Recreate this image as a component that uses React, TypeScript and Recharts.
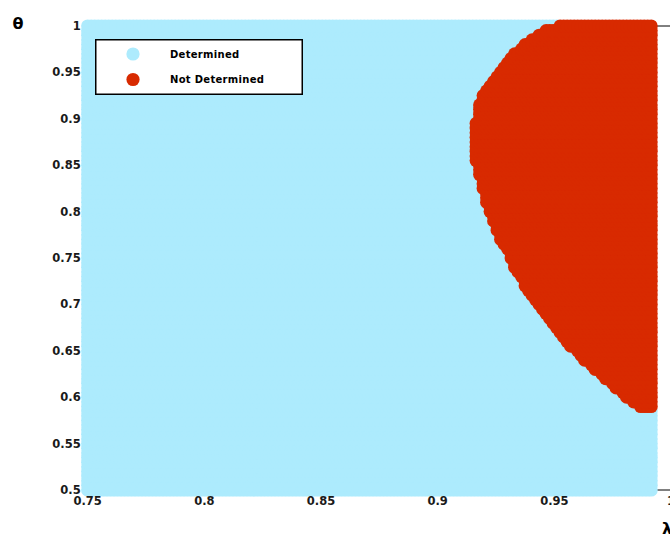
import React from 'react';
import { ScatterChart, Scatter, XAxis, YAxis, Legend } from 'recharts';

// Sampling grid of the scan (lambda on x, theta on y)
const lambdaStart = 0.75;
const lambdaEnd = 0.9915;
const lambdaStep = 0.0015;
const thetaStart = 0.5;
const thetaEnd = 1.0;
const thetaStep = 0.005;

// Rows where the "Not Determined" region exists and the smallest lambda that is Not Determined
const notDeterminedTheta = [
  1.0, 0.995, 0.99, 0.985, 0.98, 0.975, 0.97, 0.965, 0.96, 0.955,
  0.95, 0.945, 0.94, 0.935, 0.93, 0.925, 0.92, 0.915, 0.91, 0.905,
  0.9, 0.895, 0.89, 0.885, 0.88, 0.875, 0.87, 0.865, 0.86, 0.855,
  0.85, 0.845, 0.84, 0.835, 0.83, 0.825, 0.82, 0.815, 0.81, 0.805,
  0.8, 0.795, 0.79, 0.785, 0.78, 0.775, 0.77, 0.765, 0.76, 0.755,
  0.75, 0.745, 0.74, 0.735, 0.73, 0.725, 0.72, 0.715, 0.71, 0.705,
  0.7, 0.695, 0.69, 0.685, 0.68, 0.675, 0.67, 0.665, 0.66, 0.655,
  0.65, 0.645, 0.64, 0.635, 0.63, 0.625, 0.62, 0.615, 0.61, 0.605,
  0.6, 0.595, 0.59,
];
const notDeterminedLambdaMin = [
  0.9525, 0.9467, 0.9429, 0.9403, 0.9381, 0.9356, 0.9334, 0.9313, 0.93, 0.9283,
  0.927, 0.9252, 0.924, 0.9222, 0.921, 0.9197, 0.9188, 0.9184, 0.9182, 0.9177,
  0.9175, 0.9171, 0.9169, 0.9167, 0.9167, 0.9167, 0.9167, 0.9169, 0.9171, 0.9171,
  0.9175, 0.9179, 0.9184, 0.9188, 0.9192, 0.9197, 0.9203, 0.921, 0.9214, 0.9222,
  0.9231, 0.9237, 0.9244, 0.9252, 0.9259, 0.9265, 0.9276, 0.9287, 0.9298, 0.9308,
  0.9317, 0.9326, 0.9334, 0.9347, 0.936, 0.9371, 0.9381, 0.9394, 0.9407, 0.9422,
  0.9437, 0.945, 0.9463, 0.9476, 0.9493, 0.951, 0.9523, 0.9536, 0.9558, 0.9575,
  0.9596, 0.9614, 0.9635, 0.9657, 0.9678, 0.9704, 0.9725, 0.9747, 0.9768, 0.9794,
  0.9815, 0.9841, 0.9871,
];

const xTicks = [0.75, 0.8, 0.85, 0.9, 0.95, 1];
const yTicks = [0.5, 0.55, 0.6, 0.65, 0.7, 0.75, 0.8, 0.85, 0.9, 0.95, 1];
const seriesNames = ['Determined', 'Not Determined'];

const BLUE = '#ADEBFD';
const RED = '#D82A00';
const COLORS = [BLUE, RED];
const R = 6.6;

type Pt = { lambda: number; theta: number };

function buildPoints() {
  const det: Pt[] = [];
  const notDet: Pt[] = [];
  const nL = Math.round((lambdaEnd - lambdaStart) / lambdaStep);
  const nT = Math.round((thetaEnd - thetaStart) / thetaStep);
  for (let j = 0; j <= nT; j++) {
    const theta = +(thetaStart + j * thetaStep).toFixed(4);
    const k = notDeterminedTheta.findIndex((t) => Math.abs(t - theta) < 1e-9);
    const minL = k >= 0 ? notDeterminedLambdaMin[k] : Infinity;
    for (let i = 0; i <= nL; i++) {
      const lambda = +(lambdaStart + i * lambdaStep).toFixed(4);
      (lambda >= minL - lambdaStep / 2 ? notDet : det).push({ lambda, theta });
    }
  }
  return { det, notDet };
}

const { det, notDet } = buildPoints();

const dot = (color: string) => (props: any) => (
  <circle cx={props.cx} cy={props.cy} r={R} fill={color} />
);

const tickFont = { fontFamily: '"DejaVu Sans", sans-serif', fontSize: 11.5, fontWeight: 'bold' as const, fill: '#1a1a1a' };

const fmt = (v: number) => String(+v.toFixed(2));

const renderLegend = (props: any) => {
  const payload = (props && props.payload) || [];
  return (
    <svg width={208} height={56} style={{ display: 'block' }}>
      <rect x={0.75} y={0.75} width={206.5} height={54.5} fill="#fff" stroke="#000" strokeWidth={1.5} />
      {seriesNames.map((name, i) => {
        const e = payload[i];
        const color = (e && e.color) || COLORS[i];
        const label = (e && e.value) || name;
        const cy = 15 + i * 25.5;
        return (
          <g key={name}>
            <circle cx={38} cy={cy} r={R} fill={color} />
            <text x={75} y={cy + 3.8} fontFamily='"DejaVu Sans", sans-serif' fontSize={10} fontWeight="bold" fill="#000" letterSpacing={0.3}>
              {label}
            </text>
          </g>
        );
      })}
    </svg>
  );
};

const W = 700;
const H = 536;
const MARGIN = { top: 26, right: 29, bottom: 16, left: 27.7 };

const layer: React.CSSProperties = { position: 'absolute', left: 0, top: 0 };

export default function App() {
  return (
    <div style={{ position: 'absolute', left: 0, top: 0, width: 670, height: 536, overflow: 'hidden', background: '#fff' }}>
      {/* Frame layer: box spines drawn beneath the markers */}
      <div style={layer}>
        <ScatterChart width={W} height={H} margin={MARGIN}>
          <XAxis type="number" dataKey="lambda" domain={[0.75, 1]} ticks={xTicks} height={30} tick={false} tickLine={false} stroke="#000" />
          <XAxis xAxisId="top" orientation="top" type="number" domain={[0.75, 1]} ticks={xTicks} mirror tick={false} tickLine={false} stroke="#000" />
          <YAxis type="number" dataKey="theta" domain={[0.5, 1]} ticks={yTicks} width={60} tick={false} tickLine={false} stroke="#000" />
        </ScatterChart>
      </div>
      {/* Data layer: markers, tick labels, right-side ticks and legend, same plot rectangle */}
      <div style={layer}>
        <ScatterChart width={W} height={H} margin={MARGIN}>
          <XAxis
            type="number"
            dataKey="lambda"
            domain={[0.75, 1]}
            ticks={xTicks}
            interval={0}
            tickFormatter={fmt}
            height={30}
            tickSize={5}
            tickMargin={2}
            axisLine={false}
            tickLine={false}
            tick={tickFont}
          />
          <YAxis
            type="number"
            dataKey="theta"
            domain={[0.5, 1]}
            ticks={yTicks}
            interval={0}
            tickFormatter={fmt}
            width={60}
            tickSize={5}
            tickMargin={2}
            axisLine={false}
            tickLine={false}
            tick={tickFont}
          />
          <YAxis
            yAxisId="right"
            orientation="right"
            type="number"
            domain={[0.5, 1]}
            ticks={yTicks}
            mirror
            tick={false}
            tickSize={5}
            stroke="#000"
          />
          <Scatter name={seriesNames[0]} data={det} fill={BLUE} shape={dot(BLUE)} isAnimationActive={false} />
          <Scatter name={seriesNames[1]} data={notDet} fill={RED} shape={dot(RED)} isAnimationActive={false} />
          <Legend
            layout="vertical"
            align="center"
            verticalAlign="middle"
            content={renderLegend}
            wrapperStyle={{ position: 'absolute', left: 95, top: 39, width: 208, height: 56, margin: 0, padding: 0 }}
          />
        </ScatterChart>
      </div>
      <span style={{ position: 'absolute', left: 12.5, top: 15.7, fontFamily: '"DejaVu Sans", sans-serif', fontWeight: 'bold', fontSize: 16, lineHeight: '16px', color: '#000' }}>θ</span>
      <span style={{ position: 'absolute', left: 662, top: 520.7, fontFamily: '"DejaVu Sans", sans-serif', fontWeight: 'bold', fontSize: 16, lineHeight: '16px', color: '#000' }}>λ</span>
    </div>
  );
}
